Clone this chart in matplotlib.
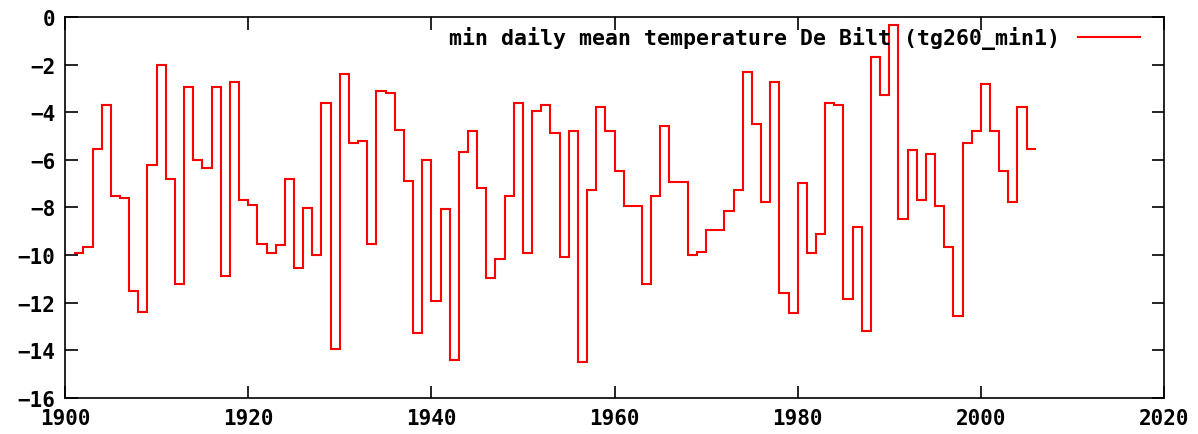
import numpy as np
import matplotlib
matplotlib.use("Agg")
import matplotlib.pyplot as plt

# annual minimum of daily mean temperature, De Bilt, 1901-2005
years = list(range(1901, 2006))
tmin = [
    -9.92, -9.66, -5.53, -3.68, -7.52, -7.61, -11.51, -12.39, -6.23, -2.00,
    -6.81, -11.20, -2.96, -5.99, -6.33, -2.96, -10.88, -2.72, -7.68, -7.91,
    -9.52, -9.92, -9.59, -6.79, -10.55, -8.01, -10.00, -3.60, -13.94, -2.41,
    -5.28, -5.21, -9.55, -3.12, -3.21, -4.73, -6.89, -13.28, -6.01, -11.93,
    -8.08, -14.40, -5.69, -4.80, -7.20, -10.97, -10.15, -7.52, -3.61, -9.92,
    -3.94, -3.68, -4.89, -10.07, -4.80, -14.50, -7.28, -3.77, -4.80, -6.48,
    -7.93, -7.93, -11.22, -7.52, -4.57, -6.95, -6.95, -10.01, -9.85, -8.95,
    -8.95, -8.15, -7.28, -2.31, -4.50, -7.76, -2.73, -11.60, -12.41, -6.96,
    -9.93, -9.13, -3.61, -3.70, -11.85, -8.81, -13.19, -1.69, -3.28, -0.32,
    -8.47, -5.60, -7.69, -5.76, -7.93, -9.68, -12.56, -5.29, -4.80, -2.83,
    -4.80, -6.48, -7.76, -3.77, -5.53,
]
label = "min daily mean temperature De Bilt (tg260_min1)"
xticks = [1900, 1920, 1940, 1960, 1980, 2000, 2020]
yticks = [-16, -14, -12, -10, -8, -6, -4, -2, 0]

plt.rcParams['font.family'] = ['DejaVu Sans Mono']
plt.rcParams['font.weight'] = 'bold'

fig = plt.figure(figsize=(11.98, 4.35), dpi=100)
ax = fig.add_axes([0.0543, 0.0828, 0.9173, 0.8758])

edges = years + [years[-1] + 1]
ax.stairs(tmin, edges, baseline=None, color='#ff0000', lw=1.5, label=label)

ax.set_xlim(1900, 2020)
ax.set_ylim(-16, 0)
ax.set_xticks(xticks)
ax.set_yticks(yticks)
ax.tick_params(direction='in', length=9, width=1.2, top=True, right=True,
               labelsize=15, pad=7)
for s in ax.spines.values():
    s.set_linewidth(1.2)

leg = ax.legend(loc='upper right', frameon=False, markerfirst=False,
                fontsize=15.5, handlelength=2.9, handletextpad=0.8,
                borderaxespad=0.2, bbox_to_anchor=(0.99, 1.01))

fig.savefig("out.png", dpi=100)
